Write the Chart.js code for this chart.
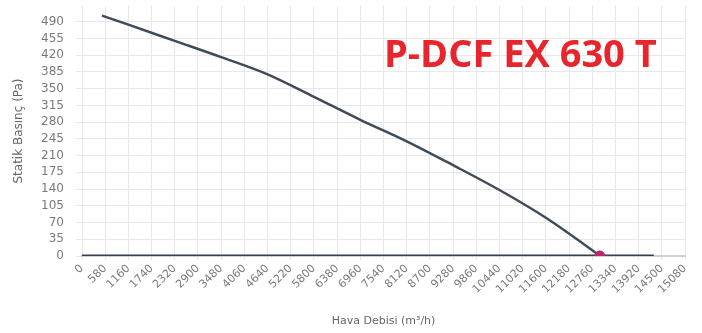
<!DOCTYPE html>
<html>
<head>
<meta charset="utf-8">
<script src="https://cdn.jsdelivr.net/npm/chart.js@4/dist/chart.umd.min.js"></script>
<style>
  html, body { margin: 0; padding: 0; background: #fff; }
  #wrap { position: relative; width: 702px; height: 333px; }
  #title {
    position: absolute; left: 384px; top: 33px; line-height: 1;
    font-family: "Open Sans", "Noto Sans", sans-serif; font-weight: 700;
    font-size: 38px; color: #e8242c; white-space: nowrap;
  }
</style>
</head>
<body>
<div id="wrap">
  <canvas id="myChart" width="702" height="333"></canvas>
  <div id="title">P-DCF EX 630 T</div>
</div>
<script>
var flow = [500, 1160, 2320, 3480, 4640, 5800, 6960, 8120, 9280, 10440, 11600, 12760, 12950];
var pressure = [503, 484, 450, 416, 380, 333, 285, 240, 190, 138, 80, 12, 0];
var baseFlow = [0, 14300];
var baseValue = [0, 0];
var opFlow = [12950];
var opValue = [0];
var xTickStep = 580;
var xMax = 15080;
var yTickStep = 35;
var yTickMax = 490;

app = (function() {
	return {
		initialize: function() {
			var ctx = document.getElementById('myChart').getContext('2d');
			var curve = flow.map(function(f, i) { return { x: f, y: pressure[i] }; });
			var base = baseFlow.map(function(f, i) { return { x: f, y: baseValue[i] }; });
			var op = opFlow.map(function(f, i) { return { x: f, y: opValue[i] }; });
			var tickFont = { family: "'DejaVu Sans', sans-serif", size: 11 };
			new Chart(ctx, {
				type: 'scatter',
				data: {
					datasets: [{
						data: base,
						showLine: true,
						borderColor: '#36414e',
						borderWidth: 3,
						pointRadius: 0,
						order: 3
					}, {
						data: curve,
						showLine: true,
						borderColor: '#3e4b5b',
						borderWidth: 2.5,
						pointRadius: 0,
						cubicInterpolationMode: 'monotone',
						order: 2
					}, {
						data: op,
						pointStyle: 'circle',
						pointRadius: 5,
						backgroundColor: '#b8276a',
						borderColor: '#b8276a',
						order: 1
					}]
				},
				options: {
					responsive: false,
					animation: false,
					layout: { padding: { top: 5, right: 17, left: 0, bottom: 0 } },
					plugins: { legend: { display: false }, tooltip: { enabled: false } },
					scales: {
						x: {
							type: 'linear',
							min: 0,
							max: xMax,
							afterFit: function(s) { s.height = 77; },
							ticks: {
								stepSize: xTickStep,
								autoSkip: false,
								minRotation: 45,
								maxRotation: 45,
								color: '#7a7a7a',
								font: tickFont,
								padding: 2,
								callback: function(v) { return String(v); }
							},
							grid: { color: '#e8e8e8', tickLength: 4 },
							border: { color: '#c9d1dc', width: 2 },
							title: {
								display: true,
								text: 'Hava Debisi (m³/h)',
								color: '#666',
								font: { family: "'DejaVu Sans', sans-serif", size: 11 },
								padding: { top: 0, bottom: 5 }
							}
						},
						y: {
							min: 0,
							max: 523,
							afterFit: function(s) {
								s.width = 82;
								s.paddingTop = 0;
								s.paddingBottom = 0;
							},
							afterBuildTicks: function(s) {
								s.ticks = s.ticks.filter(function(t) { return t.value <= yTickMax; });
							},
							ticks: {
								stepSize: yTickStep,
								autoSkip: false,
								color: '#7a7a7a',
								font: { family: "'DejaVu Sans', sans-serif", size: 12 },
								padding: 12
							},
							grid: { color: '#e8e8e8', tickLength: 6 },
							border: { display: false },
							title: {
								display: true,
								text: 'Statik Basınç (Pa)',
								color: '#666',
								font: { family: "'DejaVu Sans', sans-serif", size: 12 },
								padding: { top: 12, bottom: 0 }
							}
						}
					}
				}
			});
		}
	}
})();

app.initialize();
</script>
</body>
</html>
